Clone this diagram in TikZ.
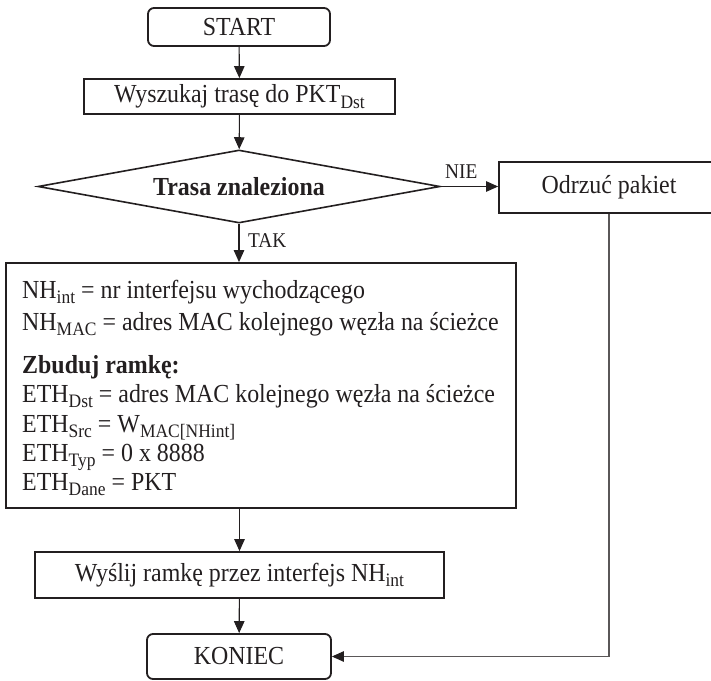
\documentclass[tikz,border=0pt]{standalone}
\usepackage{fontspec}
\setmainfont{Liberation Serif}[FakeStretch=0.92]
\usetikzlibrary{shapes.geometric,arrows.meta}

% lowered, smaller index text used in the labels
\newcommand{\sbs}[1]{\raisebox{-0.22em}{\fontsize{19}{19}\selectfont #1}}

\definecolor{ink}{HTML}{231F20}

\begin{document}
\begin{tikzpicture}[x=1pt,y=-1pt,
  txt/.style={font=\fontsize{26}{30}\selectfont, text=ink},
  lbl/.style={font=\fontsize{21}{24}\selectfont, text=ink, inner sep=0},
  stepbox/.style={txt, draw=ink, line width=1.8pt, inner sep=0, rectangle},
  termbox/.style={stepbox, rounded corners=6pt},
  decision/.style={txt, draw=ink, line width=1.6pt, shape=diamond, aspect=5.5, inner sep=0, font=\fontsize{26}{30}\selectfont\bfseries},
  line/.style={txt, anchor=base west, inner sep=0},
  arr/.style={draw=ink, line width=1.1pt, -{Triangle[length=12pt,width=10.5pt]}},
  back/.style={draw=ink!75, line width=1.1pt, -{Triangle[length=12pt,width=10.5pt,color=ink]}}
]
\useasboundingbox (0,0) rectangle (711,680);

% terminals, process boxes and the decision
\node[termbox, minimum width=182, minimum height=38] (start) at (239,27) {START};
\node[stepbox, minimum width=311, minimum height=35] (find) at (239.5,96.5) {Wyszukaj trasę do PKT\sbs{Dst}};
\node[decision, minimum width=402, minimum height=73] (dec) at (239,186.5) {Trasa znaleziona};
\node[stepbox, minimum width=220, minimum height=51] (drop) at (609,187.5) {Odrzuć pakiet};
\node[stepbox, minimum width=510, minimum height=245] (big) at (261,385.5) {};
\node[stepbox, minimum width=409, minimum height=46] (send) at (239.5,575) {Wyślij ramkę przez interfejs NH\sbs{int}};
\node[termbox, minimum width=184, minimum height=45] (end) at (239,656.5) {KONIEC};

% contents of the frame-building block
\node[line] (l1) at (22,298) {NH\sbs{int} = nr interfejsu wychodzącego};
\node[line] (l2) at (22,330) {NH\sbs{MAC} = adres MAC kolejnego węzła na ścieżce};
\node[line] (l3) at (22,373) {\bfseries Zbuduj ramkę:};
\node[line] (l4) at (22,402) {ETH\sbs{Dst} = adres MAC kolejnego węzła na ścieżce};
\node[line] (l5) at (22,432) {ETH\sbs{Src} = W\sbs{MAC[NHint]}};
\node[line] (l6) at (22,461) {ETH\sbs{Typ} = 0 x 8888};
\node[line] (l7) at (22,490) {ETH\sbs{Dane} = PKT};

% branch labels
\node[lbl, anchor=base west] (no) at (445,178) {NIE};
\node[lbl, anchor=base west] (yes) at (248,247) {TAK};

% connectors
\draw[arr] (start) -- (find);
\draw[arr] (find) -- (dec);
\draw[arr] (dec.east) -- (dec.east -| drop.west);
\draw[arr] (dec.south) -- (dec.south |- big.north);
\draw[arr] (big.south -| send.north) -- (send.north);
\draw[arr] (send) -- (end);
\draw[back] (drop.south) |- (end.east);
\end{tikzpicture}
\end{document}
